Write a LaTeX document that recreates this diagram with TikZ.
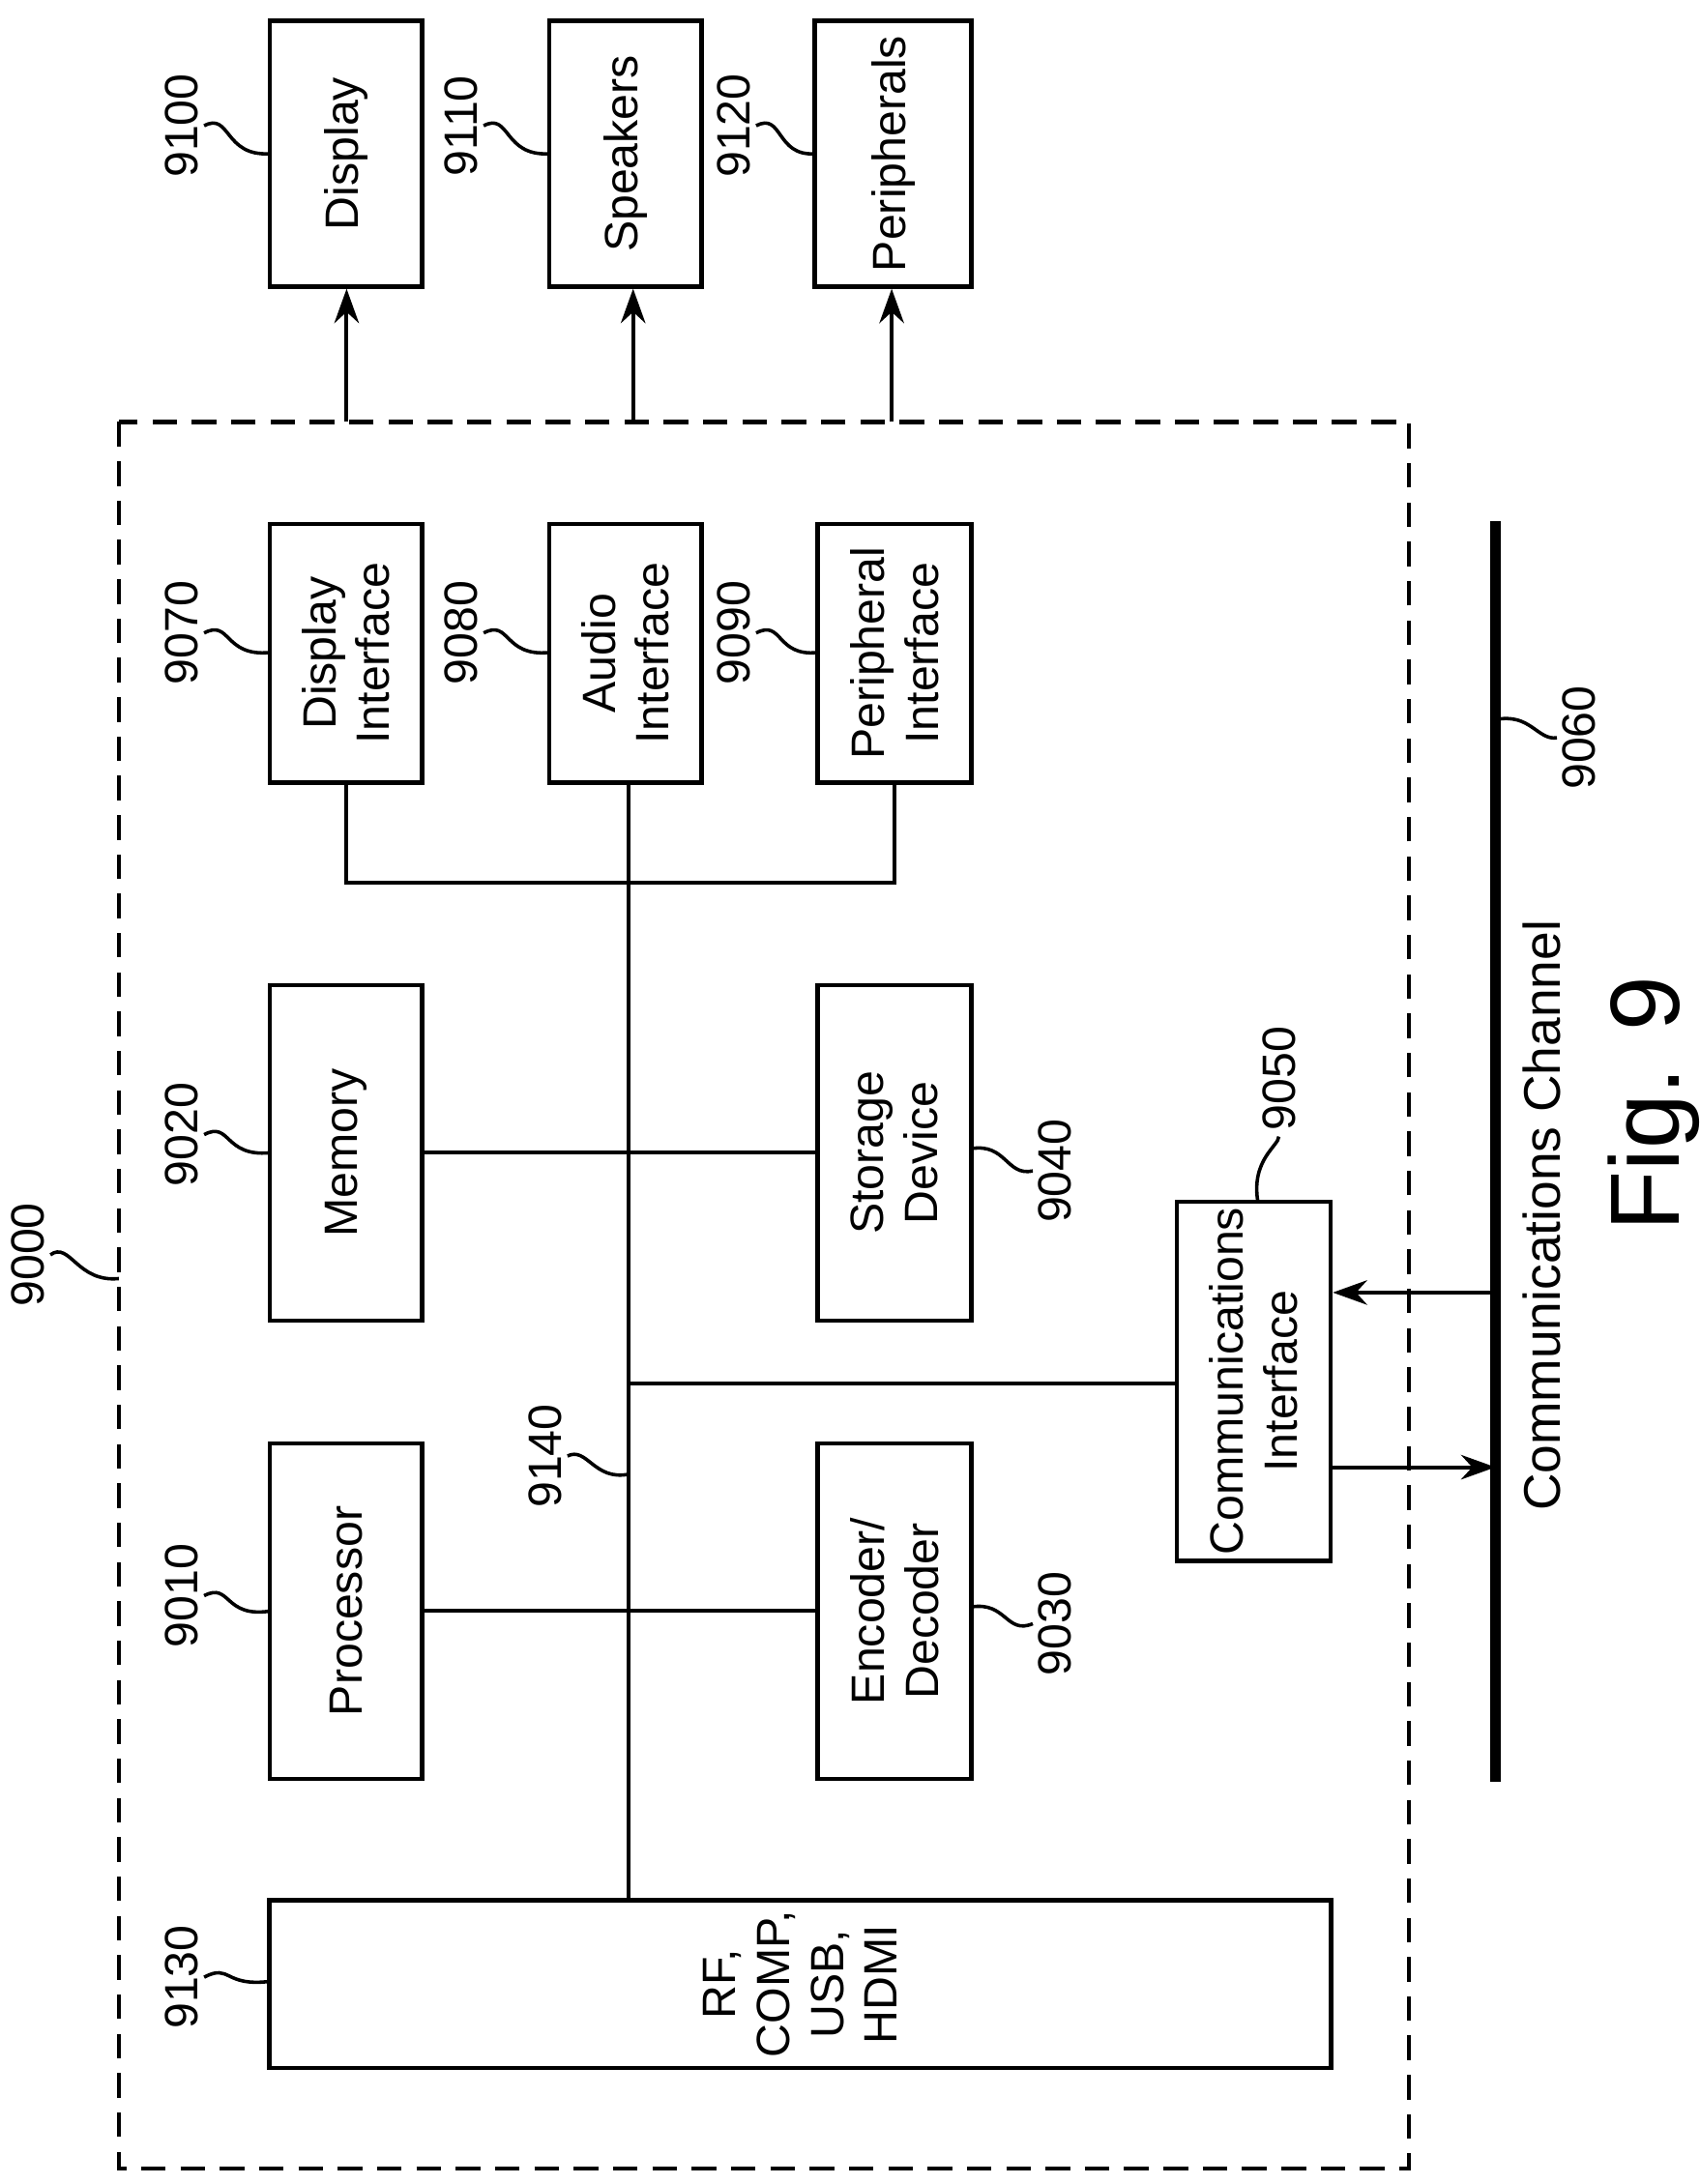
\documentclass[tikz,border=0pt]{standalone}
\usepackage{fontspec}
\setmainfont{Liberation Sans}
\usetikzlibrary{arrows.meta,calc}
\begin{document}
\begin{tikzpicture}[x=0.01cm,y=-0.01cm,
  box/.style={draw,line width=0.9pt,rotate=90,inner sep=0pt,align=center,font=\fontsize{9.5}{11}\selectfont},
  lbl/.style={rotate=90,font=\fontsize{9.5}{11}\selectfont,inner sep=1pt},
  ln/.style={line width=0.8pt},
  ar/.style={line width=0.8pt,-{Stealth[length=7pt,width=5pt]}},
  lead/.style={line width=0.7pt}]
\useasboundingbox (0,0) rectangle (1216,1563);
\draw[line width=0.8pt,dash pattern=on 5pt off 3pt] (85,302) rectangle (1008,1552);
% top output boxes
\node[box,minimum width=1.9cm,minimum height=1.09cm] (disp) at (247.5,110) {Display};
\node[box,minimum width=1.9cm,minimum height=1.09cm] (spk) at (447.5,110) {Speakers};
\node[box,minimum width=1.9cm,minimum height=1.12cm] (per) at (639,110) {Peripherals};
\coordinate (o1) at (248,302); \coordinate (o2) at (453,302); \coordinate (o3) at (638,302);
\draw[ar] (o1) -- (o1 |- disp.west);
\draw[ar] (o2) -- (o2 |- spk.west);
\draw[ar] (o3) -- (o3 |- per.west);
% interfaces
\node[box,minimum width=1.85cm,minimum height=1.09cm] (dif) at (247.5,467.5) {Display\\Interface};
\node[box,minimum width=1.85cm,minimum height=1.09cm] (aif) at (447.5,467.5) {Audio\\Interface};
\node[box,minimum width=1.85cm,minimum height=1.10cm] (pif) at (640,467.5) {Peripheral\\Interface};
% memory, storage
\node[box,minimum width=2.4cm,minimum height=1.09cm] (mem) at (247.5,825) {Memory};
\node[box,minimum width=2.4cm,minimum height=1.10cm] (sto) at (640,825) {Storage\\Device};
\node[box,minimum width=2.4cm,minimum height=1.09cm] (proc) at (247.5,1153) {Processor};
\node[box,minimum width=2.4cm,minimum height=1.10cm] (enc) at (640,1153) {Encoder/\\Decoder};
\node[box,minimum width=2.57cm,minimum height=1.10cm] (com) at (897,988.5) {Communications\\Interface};
\node[box,minimum width=1.2cm,minimum height=7.59cm] (rf) at (572.5,1420) {RF,\\COMP,\\USB,\\HDMI};
% bus
\coordinate (bt) at (450,632); \coordinate (bb) at (450,1360);
\draw[ln] (450,560) -- (bb);
\draw[ln] (dif.west) -- (dif.west |- bt) -- (pif.west |- bt) -- (pif.west);
\draw[ln] (mem.south) -- (sto.north);
\draw[ln] (proc.south) -- (enc.north);
\coordinate (bc) at (450,990);
\draw[ln] (bc) -- (com.north |- bc);
% channel
\coordinate (ct) at (1070,373); \coordinate (cb) at (1070,1275);
\draw[line width=2.2pt] (ct) -- (cb);
\draw[ar] (1070,925) -- (com.south |- 0,925);
\draw[ar] (com.south |- 0,1050) -- (1070,1050);
\node[lbl,font=\fontsize{10.5}{12}\selectfont] (cc) at (1103,870) {Communications Channel};
\node[rotate=90,font=\fontsize{20}{24}\selectfont] (fig) at (1183,790) {Fig. 9};
% reference labels
\node[lbl] (l9100) at (130,90) {9100}; \draw[lead] (l9100.south) .. controls (165,80) and (160,112) .. (193,110);
\node[lbl] (l9110) at (330,90) {9110}; \draw[lead] (l9110.south) .. controls (365,80) and (360,112) .. (393,110);
\node[lbl] (l9120) at (525,90) {9120}; \draw[lead] (l9120.south) .. controls (560,80) and (555,112) .. (583,110);
\node[lbl] (l9070) at (130,453) {9070}; \draw[lead] (l9070.south) .. controls (165,443) and (160,470) .. (193,467);
\node[lbl] (l9080) at (330,453) {9080}; \draw[lead] (l9080.south) .. controls (365,443) and (360,470) .. (393,467);
\node[lbl] (l9090) at (525,453) {9090}; \draw[lead] (l9090.south) .. controls (560,443) and (555,470) .. (585,467);
\node[lbl] (l9020) at (130,812) {9020}; \draw[lead] (l9020.south) .. controls (165,802) and (160,828) .. (193,825);
\node[lbl] (l9010) at (130,1142) {9010}; \draw[lead] (l9010.south) .. controls (165,1132) and (160,1158) .. (193,1153);
\node[lbl] (l9130) at (130,1415) {9130}; \draw[lead] (l9130.south) .. controls (165,1405) and (160,1422) .. (193,1418);
\node[lbl] (l9000) at (20,898) {9000}; \draw[lead] (l9000.south) .. controls (50,888) and (55,918) .. (85,915);
\node[lbl] (l9040) at (755,838) {9040}; \draw[lead] (695,822) .. controls (720,818) and (720,842) .. (l9040.north);
\node[lbl] (l9030) at (755,1162) {9030}; \draw[lead] (695,1150) .. controls (720,1146) and (720,1170) .. (l9030.north);
\node[lbl] (l9140) at (390,1042) {9140}; \draw[lead] (l9140.south) .. controls (420,1035) and (425,1060) .. (450,1055);
\node[lbl] (l9050) at (915,772) {9050}; \draw[lead] (l9050.west) .. controls (915,820) and (895,830) .. (900,860);
\node[lbl] (l9060) at (1130,528) {9060}; \draw[lead] (1070,515) .. controls (1095,510) and (1100,530) .. (l9060.north);
\end{tikzpicture}
\end{document}
